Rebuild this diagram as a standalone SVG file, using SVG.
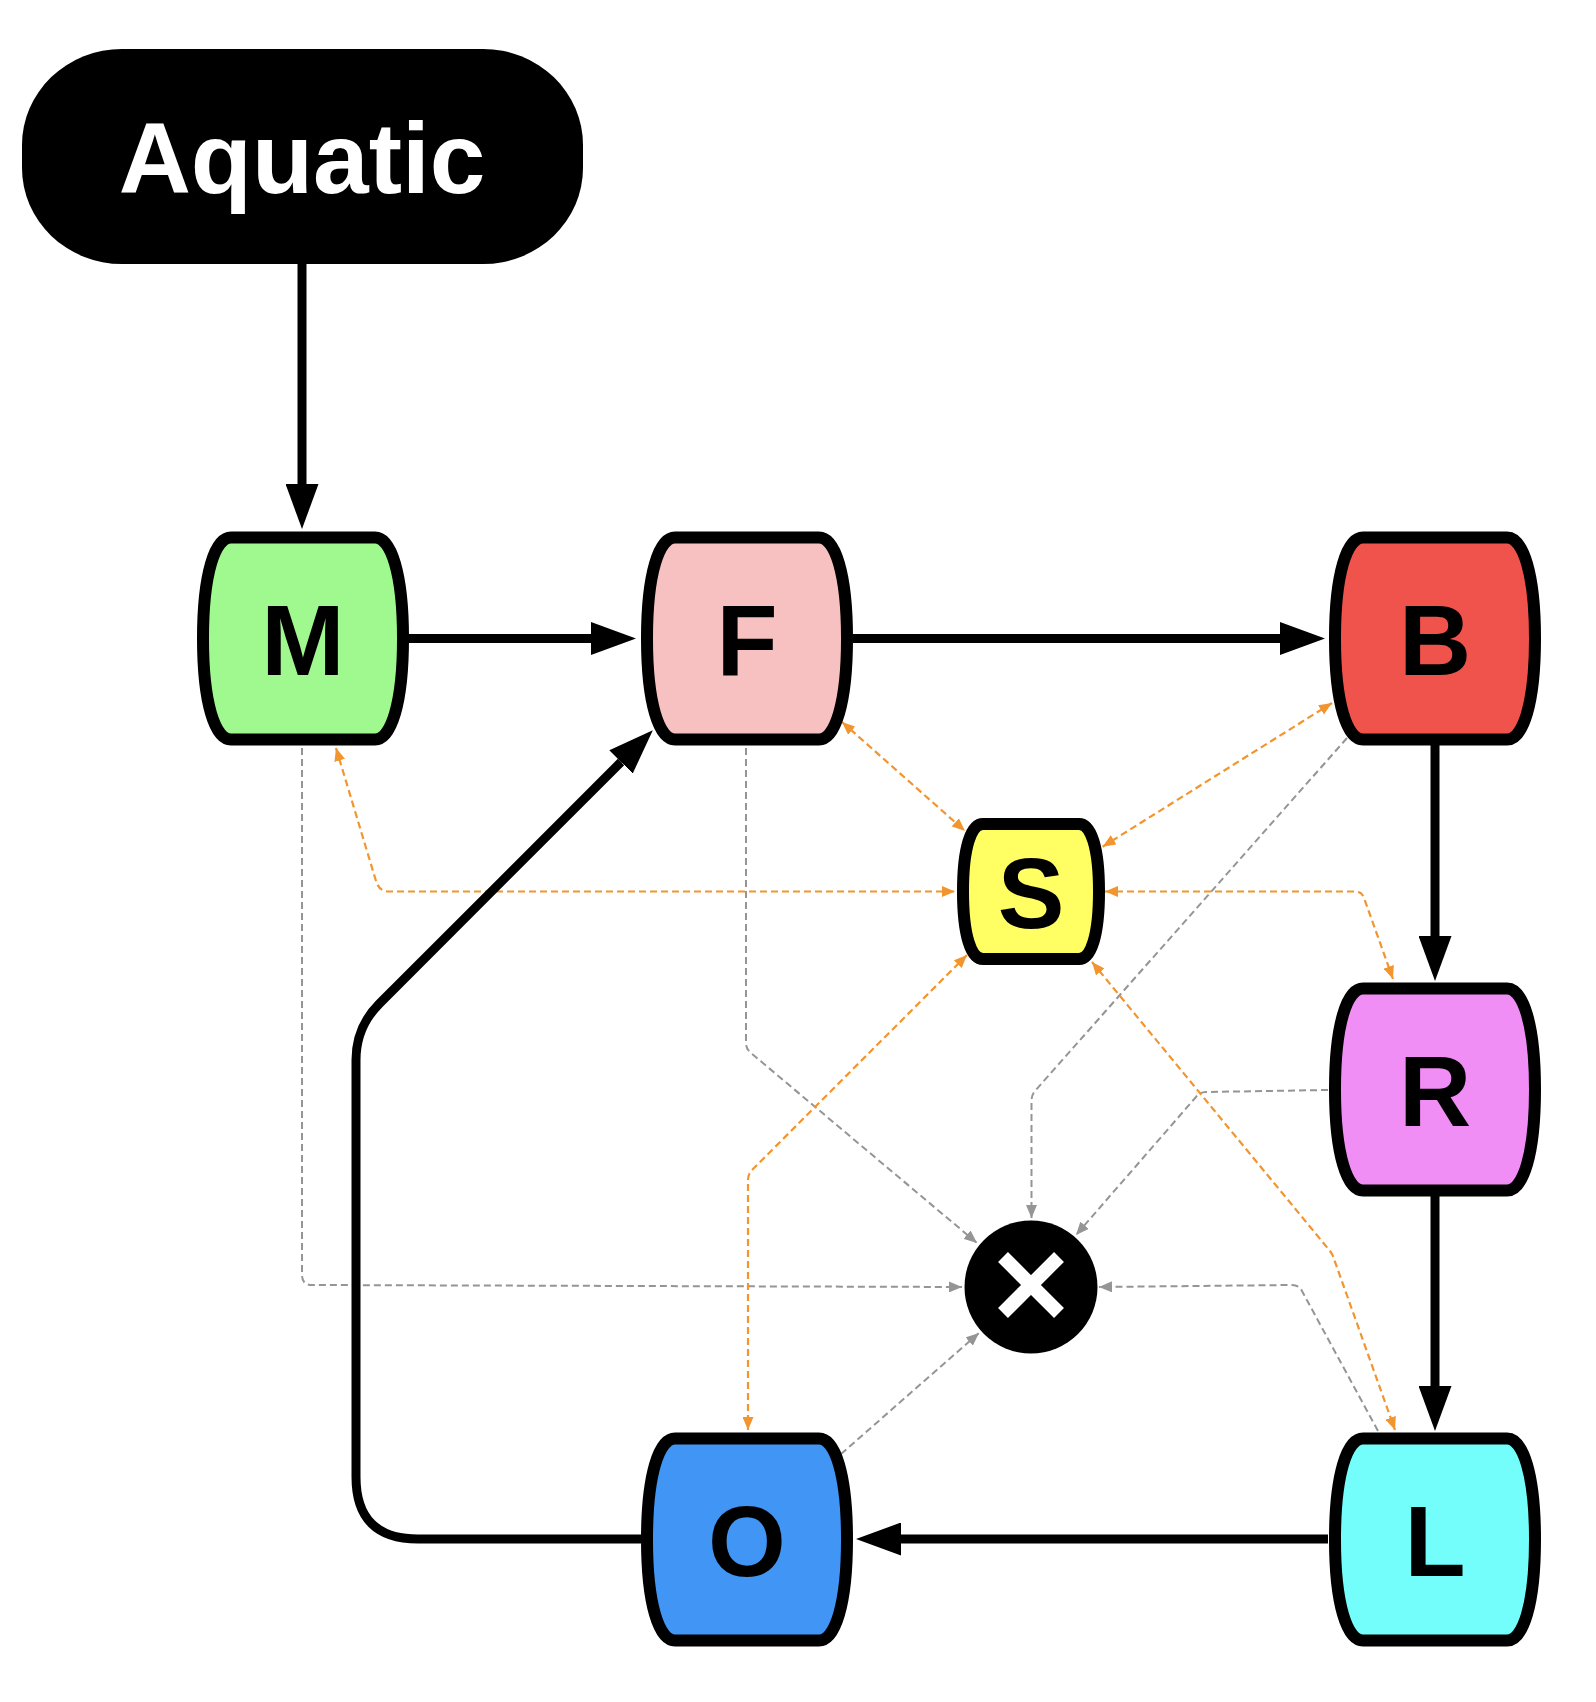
<svg xmlns="http://www.w3.org/2000/svg" width="1596" height="1702" viewBox="0 0 1596 1702">
<style>
.node{stroke:#000;stroke-width:12;stroke-linejoin:round}
.lbl{font-family:"Liberation Sans",Arial,Helvetica,sans-serif;font-weight:bold;font-size:100px;text-anchor:middle;fill:#000}
.thick{fill:none;stroke:#000;stroke-width:9}
.og{fill:none;stroke:#f2952f;stroke-width:2.2;stroke-dasharray:7 4}
.gr{fill:none;stroke:#959595;stroke-width:2;stroke-dasharray:7 4}
</style>
<defs>
<marker id="ah" viewBox="0 0 45 33" markerWidth="45" markerHeight="33" refX="0" refY="16.5" markerUnits="userSpaceOnUse" orient="auto"><path d="M0,0 L45,16.5 L0,33 Z" fill="#000"/></marker>
<marker id="ao" viewBox="0 0 13 11" markerWidth="13" markerHeight="11" refX="13" refY="5.5" markerUnits="userSpaceOnUse" orient="auto-start-reverse"><path d="M0,0 L13,5.5 L0,11 Z" fill="#f2952f"/></marker>
<marker id="ag" viewBox="0 0 13 11" markerWidth="13" markerHeight="11" refX="13" refY="5.5" markerUnits="userSpaceOnUse" orient="auto"><path d="M0,0 L13,5.5 L0,11 Z" fill="#959595"/></marker>
<path id="barrel" d="M-72,-101 L72,-101 C88,-101 100,-65 100,0 C100,65 88,101 72,101 L-72,101 C-88,101 -100,65 -100,0 C-100,-65 -88,-101 -72,-101 Z"/>
</defs>
<rect width="1596" height="1702" fill="#fff"/>
<g id="connectors">
<path class="gr" marker-end="url(#ag)" d="M302,748 L302,1275 Q302,1285 312,1285 L962,1287"/>
<path class="gr" marker-end="url(#ag)" d="M746,748 L746,1043 Q746,1049 751,1053 L977,1243"/>
<path class="gr" marker-end="url(#ag)" d="M1347,738 L1035,1091 Q1031.5,1095 1031.5,1101 L1031.5,1218"/>
<path class="gr" marker-end="url(#ag)" d="M1328,1090 L1206,1092 Q1200,1092 1196,1097 L1076,1235"/>
<path class="gr" marker-end="url(#ag)" d="M1378,1431 L1302,1291 Q1299,1285 1292,1285 L1099,1287"/>
<path class="gr" marker-end="url(#ag)" d="M841,1454 L979,1333"/>
<path class="og" marker-start="url(#ao)" marker-end="url(#ao)" d="M842,722 L965,831"/>
<path class="og" marker-start="url(#ao)" marker-end="url(#ao)" d="M1332,703 L1102.6,846.7"/>
<path class="og" marker-start="url(#ao)" marker-end="url(#ao)" d="M336,748 L376,881 Q379,891.5 389,891.5 L955,891.5"/>
<path class="og" marker-start="url(#ao)" marker-end="url(#ao)" d="M1105,891.5 L1355,891.5 Q1362,891.5 1364,898 L1393,979"/>
<path class="og" marker-start="url(#ao)" marker-end="url(#ao)" d="M967,955 L752,1170 Q748,1174 748,1180 L748,1430"/>
<path class="og" marker-start="url(#ao)" marker-end="url(#ao)" d="M1092,962 L1330,1251 Q1333,1255 1334,1259 L1395,1430"/>
<path class="thick" marker-end="url(#ah)" d="M302,264 L302,484"/>
<path class="thick" marker-end="url(#ah)" d="M408,638.5 L591,638.5"/>
<path class="thick" marker-end="url(#ah)" d="M853,638.5 L1280,638.5"/>
<path class="thick" marker-end="url(#ah)" d="M1435,745 L1435,936"/>
<path class="thick" marker-end="url(#ah)" d="M1435,1195 L1435,1386"/>
<path class="thick" marker-end="url(#ah)" d="M1328,1539 L901,1539"/>
<path class="thick" marker-end="url(#ah)" d="M641,1539 L418,1539 Q356,1539 356,1477 L356,1060 Q356,1027 379.3,1003.7 L621,762"/>
</g>
<g id="node-aquatic">
<rect x="22" y="49" width="561" height="215" rx="100" ry="96" fill="#000"/>
<text class="lbl" x="302" y="193" style="fill:#fff">Aquatic</text>
</g>
<g id="node-M">
<use href="#barrel" class="node" transform="translate(303,638.5)" fill="#a0f98f"/>
<text class="lbl" x="303" y="674.5">M</text>
</g>
<g id="node-F">
<use href="#barrel" class="node" transform="translate(747,638.5)" fill="#f7c1c1"/>
<text class="lbl" x="747" y="674.5">F</text>
</g>
<g id="node-B">
<use href="#barrel" class="node" transform="translate(1435,638.5)" fill="#ef534b"/>
<text class="lbl" x="1435" y="674.5">B</text>
</g>
<g id="node-R">
<use href="#barrel" class="node" transform="translate(1435,1089.5)" fill="#f08ef5"/>
<text class="lbl" x="1435" y="1125.5">R</text>
</g>
<g id="node-L">
<use href="#barrel" class="node" transform="translate(1435,1539.5)" fill="#73fefc"/>
<text class="lbl" x="1435" y="1575.5">L</text>
</g>
<g id="node-O">
<use href="#barrel" class="node" transform="translate(747,1539.5)" fill="#4095f5"/>
<text class="lbl" x="747" y="1575.5">O</text>
</g>
<g id="node-S">
<path class="node" fill="#ffff63" transform="translate(1031,891.5)" d="M-48,-67.5 L48,-67.5 C60,-67.5 68,-44 68,0 C68,44 60,67.5 48,67.5 L-48,67.5 C-60,67.5 -68,44 -68,0 C-68,-44 -60,-67.5 -48,-67.5 Z"/>
<text class="lbl" x="1031" y="928">S</text>
</g>
<g id="node-X">
<circle cx="1031" cy="1287" r="66.5" fill="#000"/>
<path d="M1003,1257 L1059,1313 M1059,1257 L1003,1313" stroke="#fff" stroke-width="14" fill="none"/>
</g>
</svg>
